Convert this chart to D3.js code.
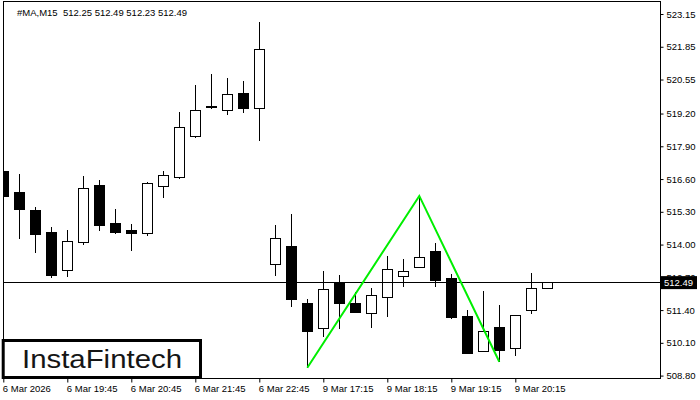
<!DOCTYPE html>
<html>
<head>
<meta charset="utf-8">
<script src="https://cdn.jsdelivr.net/npm/d3@7"></script>
<style>
  html, body { margin: 0; padding: 0; background: #fff; }
  svg { display: block; }
  text { font-family: "Liberation Sans", Arial, sans-serif; }
</style>
</head>
<body>
<script>
// ---- data ----
const times = [
  "6 Mar 18:45","6 Mar 19:00","6 Mar 19:15","6 Mar 19:30","6 Mar 19:45","6 Mar 20:00",
  "6 Mar 20:15","6 Mar 20:30","6 Mar 20:45","6 Mar 21:00","6 Mar 21:15","6 Mar 21:30",
  "6 Mar 21:45","6 Mar 22:00","6 Mar 22:15","6 Mar 22:30","6 Mar 22:45",
  "9 Mar 16:30","9 Mar 16:45","9 Mar 17:00","9 Mar 17:15","9 Mar 17:30","9 Mar 17:45",
  "9 Mar 18:00","9 Mar 18:15","9 Mar 18:30","9 Mar 18:45","9 Mar 19:00","9 Mar 19:15",
  "9 Mar 19:30","9 Mar 19:45","9 Mar 20:00","9 Mar 20:15","9 Mar 20:30","9 Mar 20:45"
];
const open  = [516.89,516.06,515.37,514.46,512.96,514.07,516.36,514.82,514.55,514.43,516.30,516.67,
               518.28,519.44,519.33,520.00,519.41,513.22,513.94,511.67,510.68,512.44,511.67,511.27,
               511.91,512.74,513.10,513.71,512.67,511.13,509.76,510.69,509.88,511.39,512.25];
const high  = [517.75,516.80,515.50,514.69,514.58,516.72,516.56,515.41,514.82,516.48,516.92,519.26,
               520.32,520.77,520.61,520.49,522.82,514.78,515.21,511.84,512.96,512.79,512.13,512.29,
               513.55,513.43,515.93,514.07,512.83,511.40,512.16,511.59,511.17,512.87,512.49];
const low   = [515.57,514.22,513.68,512.66,512.72,513.99,514.55,514.42,513.76,514.34,515.86,516.62,
               518.24,519.39,519.15,519.21,518.12,512.77,511.54,509.11,510.34,510.64,511.27,510.70,
               511.14,512.33,513.08,512.33,511.06,509.68,509.75,509.35,509.59,511.26,512.23];
const close = [515.90,515.41,514.38,512.79,514.14,516.23,514.75,514.47,514.43,516.43,516.76,518.63,
               519.34,519.46,519.96,519.41,521.75,514.25,511.83,510.54,512.20,511.67,511.30,511.96,
               513.02,512.94,513.50,512.57,511.11,509.69,510.56,509.79,511.17,512.24,512.49];

const yTickValues = [523.15,521.85,520.55,519.20,517.90,516.60,515.30,514.00,512.70,511.40,510.10,508.80];
const xTickTimes  = ["6 Mar 18:45","6 Mar 19:45","6 Mar 20:45","6 Mar 21:45","6 Mar 22:45",
                     "9 Mar 17:15","9 Mar 18:15","9 Mar 19:15","9 Mar 20:15"];
const xTickLabels = ["6 Mar 2026","6 Mar 19:45","6 Mar 20:45","6 Mar 21:45","6 Mar 22:45",
                     "9 Mar 17:15","9 Mar 18:15","9 Mar 19:15","9 Mar 20:15"];

// double bottom pattern: low, high, low
const patternTimes  = ["9 Mar 17:00","9 Mar 18:45","9 Mar 20:00"];
const patternPrices = [509.11, 515.93, 509.35];

const symbol = "#MA,M15";
const lastPrice = 512.49;

// ---- layout ----
const W = 700, H = 400;
const plotL = 3.5, plotR = 660.5, plotT = 1.5, plotB = 378.5;

const svg = d3.select("body").append("svg").attr("width", W).attr("height", H);

const x = d3.scalePoint().domain(times).range([3.3, 547.3]);
const y = d3.scaleLinear().domain([508.80, 523.15]).range([375.6, 14]);

const px = v => Math.floor(v) + 0.5;

svg.append("clipPath").attr("id", "plotclip")
  .append("rect").attr("x", plotL).attr("y", plotT).attr("width", plotR - plotL).attr("height", plotB - plotT);

const plot = svg.append("g").attr("clip-path", "url(#plotclip)");

const candles = times.map((t, i) => ({t, o: open[i], h: high[i], l: low[i], c: close[i]}));

// wicks
plot.selectAll("line.wick").data(candles).enter().append("line")
  .attr("class", "wick")
  .attr("x1", d => px(x(d.t))).attr("x2", d => px(x(d.t)))
  .attr("y1", d => Math.round(y(d.h))).attr("y2", d => Math.round(y(d.l)))
  .attr("stroke", "#000").attr("stroke-width", 1);

// bodies
plot.selectAll("rect.body").data(candles).enter().append("rect")
  .attr("class", "body")
  .attr("x", d => px(x(d.t)) - 5)
  .attr("y", d => px(y(Math.max(d.o, d.c))))
  .attr("width", 10)
  .attr("height", d => Math.max(0, px(y(Math.min(d.o, d.c))) - px(y(Math.max(d.o, d.c)))))
  .attr("fill", d => d.c >= d.o ? "#fff" : "#000")
  .attr("stroke", "#000").attr("stroke-width", 1);

// current price line
plot.append("line")
  .attr("x1", plotL).attr("x2", plotR)
  .attr("y1", px(y(lastPrice))).attr("y2", px(y(lastPrice)))
  .attr("stroke", "#000").attr("stroke-width", 1);

// pattern line
plot.append("path")
  .datum(patternTimes.map((t, i) => [x(t), y(patternPrices[i])]))
  .attr("d", d3.line())
  .attr("fill", "none").attr("stroke", "#00ee00").attr("stroke-width", 2);

// frame
svg.append("rect").attr("x", plotL).attr("y", plotT)
  .attr("width", plotR - plotL).attr("height", plotB - plotT)
  .attr("fill", "none").attr("stroke", "#000").attr("stroke-width", 1);

// right axis
const yAxis = svg.append("g").attr("transform", `translate(${plotR},0)`)
  .call(d3.axisRight(y).tickValues(yTickValues).tickFormat(d => d.toFixed(2)).tickSize(3).tickPadding(3));
yAxis.select(".domain").remove();
yAxis.selectAll("text").attr("font-size", "9.5px").attr("font-family", "'Liberation Sans', Arial, sans-serif").attr("fill", "#000");
yAxis.selectAll("line").attr("stroke", "#000");

// bottom axis
const xAxis = svg.append("g").attr("transform", `translate(0,${plotB})`)
  .call(d3.axisBottom(x).tickValues(xTickTimes).tickFormat((d, i) => xTickLabels[i]).tickSize(4).tickPadding(3));
xAxis.select(".domain").remove();
xAxis.selectAll("text").attr("text-anchor", "start").attr("x", -1)
  .attr("font-size", "9.5px").attr("font-family", "'Liberation Sans', Arial, sans-serif").attr("fill", "#000");
xAxis.selectAll("line").attr("stroke", "#000");

// price label
const lp = y(lastPrice);
svg.append("rect").attr("x", 661).attr("y", lp - 6.5).attr("width", 36).attr("height", 13).attr("fill", "#000");
svg.append("text").attr("x", 664).attr("y", lp + 3.5)
  .attr("font-size", "9.5px").attr("fill", "#fff").text(lastPrice.toFixed(2));

// header
svg.append("text").attr("x", 17).attr("y", 15.5).attr("font-size", "9.5px").attr("fill", "#000")
  .attr("xml:space", "preserve")
  .text(`${symbol}  ${open[34].toFixed(2)} ${high[34].toFixed(2)} ${low[34].toFixed(2)} ${close[34].toFixed(2)}`);

// logo
svg.append("rect").attr("x", 3.2).attr("y", 340.5).attr("width", 197.3).attr("height", 37)
  .attr("fill", "#fff").attr("stroke", "#000").attr("stroke-width", 3);
svg.append("text").attr("x", 22).attr("y", 368)
  .attr("font-family", "Inter, Lato, 'Open Sans', sans-serif").attr("font-weight", 500)
  .attr("font-size", "25px").attr("fill", "#151515")
  .attr("textLength", 160).attr("lengthAdjust", "spacingAndGlyphs")
  .text("InstaFintech");
</script>
</body>
</html>
